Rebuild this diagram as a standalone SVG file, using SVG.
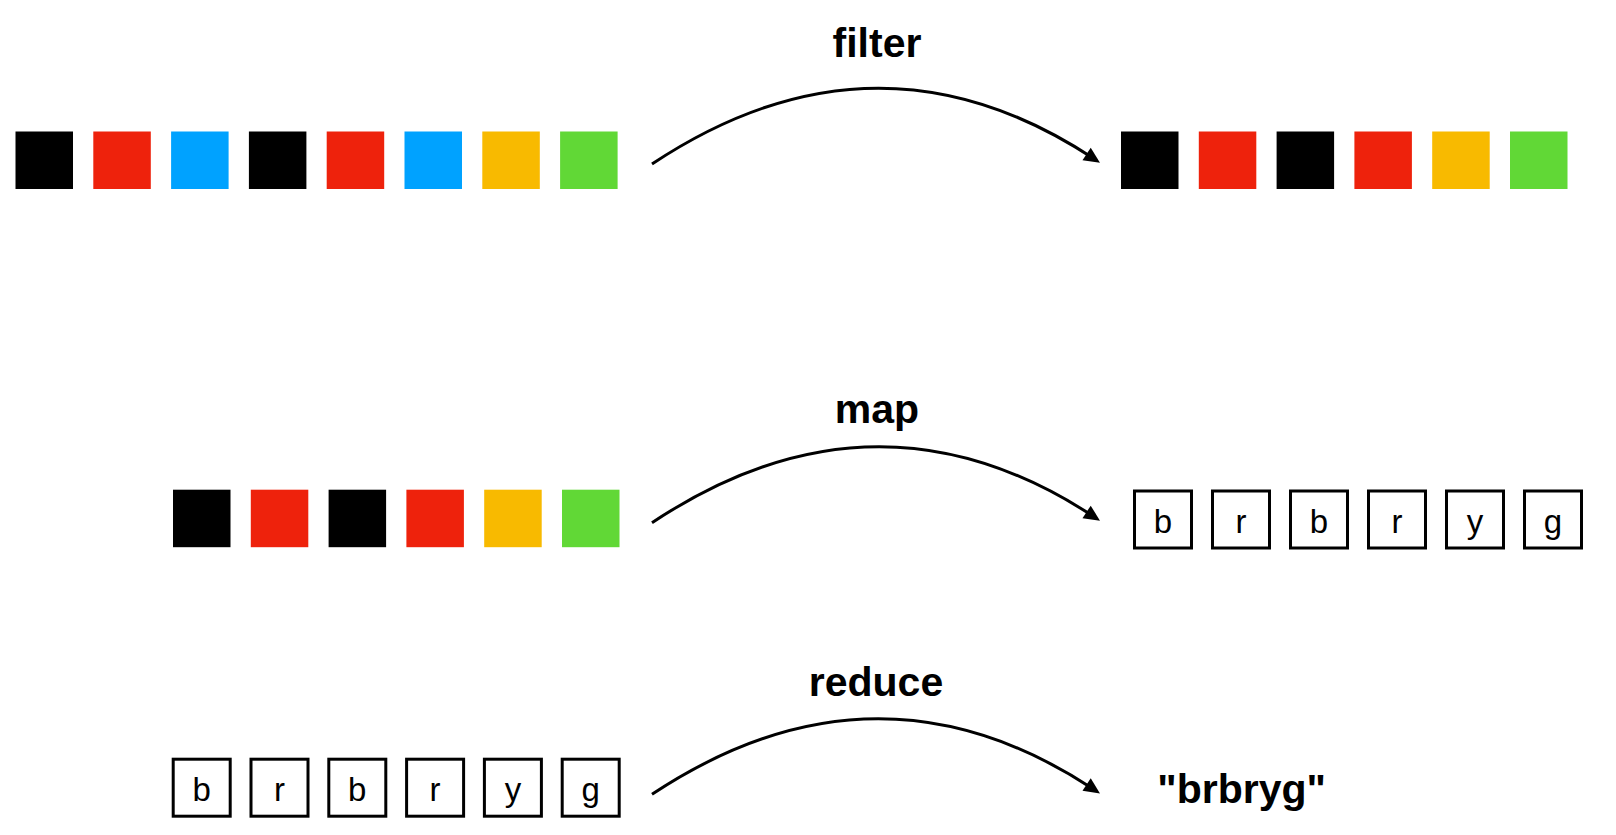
<svg xmlns="http://www.w3.org/2000/svg" width="1616" height="835" viewBox="0 0 1616 835">
<style>
.k{fill:#000000}.r{fill:#EE220C}.b{fill:#00A2FF}.y{fill:#F8BA00}.g{fill:#61D836}
.box{fill:#ffffff;stroke:#000000;stroke-width:3}
.ch{font-family:"Liberation Sans",Arial,sans-serif;font-size:33px;fill:#000000;text-anchor:middle}
.lbl{font-family:"Liberation Sans",Arial,sans-serif;font-size:41px;font-weight:bold;fill:#000000;text-anchor:middle}
.arc{fill:none;stroke:#000000;stroke-width:3}
</style>
<defs>
<marker id="ah" markerUnits="userSpaceOnUse" markerWidth="16" markerHeight="15" refX="8" refY="7.5" orient="auto" overflow="visible">
<path d="M0,0 L16,7.5 L0,15 z" fill="#000000"/>
</marker>
</defs>
<rect width="1616" height="835" fill="#ffffff"/>

<g id="filter-input">
<rect class="k" x="15.5" y="131.5" width="57.5" height="57.5"/>
<rect class="r" x="93.3" y="131.5" width="57.5" height="57.5"/>
<rect class="b" x="171.1" y="131.5" width="57.5" height="57.5"/>
<rect class="k" x="248.9" y="131.5" width="57.5" height="57.5"/>
<rect class="r" x="326.7" y="131.5" width="57.5" height="57.5"/>
<rect class="b" x="404.5" y="131.5" width="57.5" height="57.5"/>
<rect class="y" x="482.3" y="131.5" width="57.5" height="57.5"/>
<rect class="g" x="560.1" y="131.5" width="57.5" height="57.5"/>
</g>

<g id="filter-output">
<rect class="k" x="1121" y="131.5" width="57.5" height="57.5"/>
<rect class="r" x="1198.8" y="131.5" width="57.5" height="57.5"/>
<rect class="k" x="1276.6" y="131.5" width="57.5" height="57.5"/>
<rect class="r" x="1354.4" y="131.5" width="57.5" height="57.5"/>
<rect class="y" x="1432.2" y="131.5" width="57.5" height="57.5"/>
<rect class="g" x="1510" y="131.5" width="57.5" height="57.5"/>
</g>

<g id="map-input">
<rect class="k" x="173" y="489.7" width="57.5" height="57.5"/>
<rect class="r" x="250.8" y="489.7" width="57.5" height="57.5"/>
<rect class="k" x="328.6" y="489.7" width="57.5" height="57.5"/>
<rect class="r" x="406.4" y="489.7" width="57.5" height="57.5"/>
<rect class="y" x="484.2" y="489.7" width="57.5" height="57.5"/>
<rect class="g" x="562" y="489.7" width="57.5" height="57.5"/>
</g>

<g id="map-output">
<rect class="box" x="1134.5" y="491" width="57" height="57"/>
<rect class="box" x="1212.5" y="491" width="57" height="57"/>
<rect class="box" x="1290.5" y="491" width="57" height="57"/>
<rect class="box" x="1368.5" y="491" width="57" height="57"/>
<rect class="box" x="1446.5" y="491" width="57" height="57"/>
<rect class="box" x="1524.5" y="491" width="57" height="57"/>
<text class="ch" x="1163" y="532.5">b</text>
<text class="ch" x="1241" y="532.5">r</text>
<text class="ch" x="1319" y="532.5">b</text>
<text class="ch" x="1397" y="532.5">r</text>
<text class="ch" x="1475" y="532.5">y</text>
<text class="ch" x="1553" y="532.5">g</text>
</g>

<g id="reduce-input">
<rect class="box" x="173.2" y="759.2" width="57" height="57"/>
<rect class="box" x="251" y="759.2" width="57" height="57"/>
<rect class="box" x="328.8" y="759.2" width="57" height="57"/>
<rect class="box" x="406.6" y="759.2" width="57" height="57"/>
<rect class="box" x="484.4" y="759.2" width="57" height="57"/>
<rect class="box" x="562.2" y="759.2" width="57" height="57"/>
<text class="ch" x="201.7" y="800.7">b</text>
<text class="ch" x="279.5" y="800.7">r</text>
<text class="ch" x="357.3" y="800.7">b</text>
<text class="ch" x="435.1" y="800.7">r</text>
<text class="ch" x="512.9" y="800.7">y</text>
<text class="ch" x="590.7" y="800.7">g</text>
</g>

<g id="reduce-output">
<text class="lbl" x="1241.7" y="803">"brbryg"</text>
</g>

<g id="connectors">
<path class="arc" d="M652,164 Q876,15.3 1093.3,158.3" marker-end="url(#ah)"/>
<text class="lbl" x="877" y="56.7">filter</text>
<path class="arc" d="M652,522.7 Q876,374 1093.3,516.3" marker-end="url(#ah)"/>
<text class="lbl" x="877" y="422.7">map</text>
<path class="arc" d="M652,794.3 Q876,646 1093.3,789" marker-end="url(#ah)"/>
<text class="lbl" x="876" y="695.7">reduce</text>
</g>
</svg>
